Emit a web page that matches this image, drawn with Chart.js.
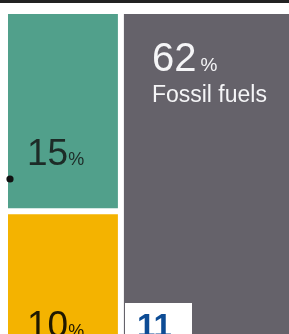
<!DOCTYPE html>
<html>
<head>
<meta charset="utf-8">
<script src="https://cdn.jsdelivr.net/npm/chart.js@4/dist/chart.umd.min.js"></script>
<style>
  html, body { margin: 0; padding: 0; width: 289px; height: 334px; overflow: hidden; background: #ffffff; }
  #wrap { position: absolute; left: 0; top: 0; }
</style>
</head>
<body>
<div id="wrap"><canvas id="c" width="310" height="518"></canvas></div>
<script>
// ---- data ----
const sectorNames = ['', '', 'Fossil fuels'];   // only "Fossil fuels" is named in the visible crop
const sharePercent = [15, 10, 62];              // % of total
const treemapColumn = [0, 0, 1];                // which column of the treemap each block sits in
const pageNumber = '11';

// ---- styles ----
const blockColors = ['#51a08b', '#f4b300', '#65626a'];
const labelColors = ['#1d2b27', '#1f1800', '#f5f5f7'];
const labelStyle = [
  { dx: 22, dy: 154, big: 37, small: 18, weight: '400', gap: 0 },
  { dx: 22, dy: 126, big: 37, small: 18, weight: '400', gap: 0 },
  { dx: 31, dy: 60, big: 40, small: 19, weight: '300', gap: 4, nameDy: 91, name: 23 }
];

// ---- treemap geometry derived from the data (column widths = column totals) ----
const fossilTotal = sharePercent.filter((v, i) => treemapColumn[i] === 1).reduce((a, b) => a + b, 0);
const colTotals = [100 - fossilTotal, fossilTotal];
const colCenters = [colTotals[0] / 2, colTotals[0] + colTotals[1] / 2];
const spacing = colCenters[1] - colCenters[0];

const datasets = sharePercent.map((v, i) => {
  const col = treemapColumn[i];
  return {
    label: sectorNames[i] || (v + '%'),
    data: [{ x: colCenters[col], y: v / colTotals[col] * 100 }],
    backgroundColor: blockColors[i],
    borderColor: '#ffffff',
    borderWidth: 3,
    borderSkipped: false,
    grouped: false,
    categoryPercentage: 1,
    barPercentage: colTotals[col] / spacing
  };
});

const labelPlugin = {
  id: 'treemapLabels',
  afterDatasetsDraw(chart) {
    const ctx = chart.ctx;
    ctx.save();
    chart.data.datasets.forEach((ds, i) => {
      const el = chart.getDatasetMeta(i).data[0];
      const left = el.x - el.width / 2;
      const top = Math.min(el.y, el.base);
      const st = labelStyle[i];
      ctx.fillStyle = labelColors[i];
      ctx.textBaseline = 'alphabetic';
      ctx.textAlign = 'left';
      const num = String(sharePercent[i]);
      ctx.font = st.weight + ' ' + st.big + 'px "Liberation Sans", Arial, sans-serif';
      ctx.fillText(num, left + st.dx, top + st.dy);
      const w = ctx.measureText(num).width;
      ctx.font = st.weight + ' ' + st.small + 'px "Liberation Sans", Arial, sans-serif';
      ctx.fillText('%', left + st.dx + w + st.gap, top + st.dy);
      if (sectorNames[i]) {
        ctx.font = '400 ' + st.name + 'px "Liberation Sans", Arial, sans-serif';
        ctx.fillText(sectorNames[i], left + st.dx, top + st.nameDy);
      }
    });
    ctx.restore();
  },
  afterDraw(chart) {
    const ctx = chart.ctx;
    ctx.save();
    ctx.fillStyle = '#222222';
    ctx.fillRect(0, 0, 310, 3);
    ctx.beginPath();
    ctx.arc(10, 179, 3.6, 0, Math.PI * 2);
    ctx.fillStyle = '#111111';
    ctx.fill();
    ctx.fillStyle = '#ffffff';
    ctx.fillRect(125, 303, 67, 40);
    ctx.fillStyle = '#0d4c95';
    ctx.font = 'bold 33px "Liberation Sans", Arial, sans-serif';
    ctx.textBaseline = 'alphabetic';
    ctx.fillText(pageNumber, 137, 337);
    ctx.restore();
  }
};

new Chart(document.getElementById('c'), {
  type: 'bar',
  data: { datasets },
  options: {
    responsive: false,
    animation: false,
    events: [],
    layout: { padding: { left: 5, top: 11, right: 0, bottom: 0 } },
    plugins: { legend: { display: false }, tooltip: { enabled: false } },
    scales: {
      x: { type: 'linear', min: 0, max: 100, offset: false, display: false, ticks: { stepSize: 50 }, grid: { display: false, offset: false } },
      y: { stacked: true, reverse: true, min: 0, max: 100, display: false, grid: { display: false } }
    }
  },
  plugins: [labelPlugin]
});
</script>
</body>
</html>
